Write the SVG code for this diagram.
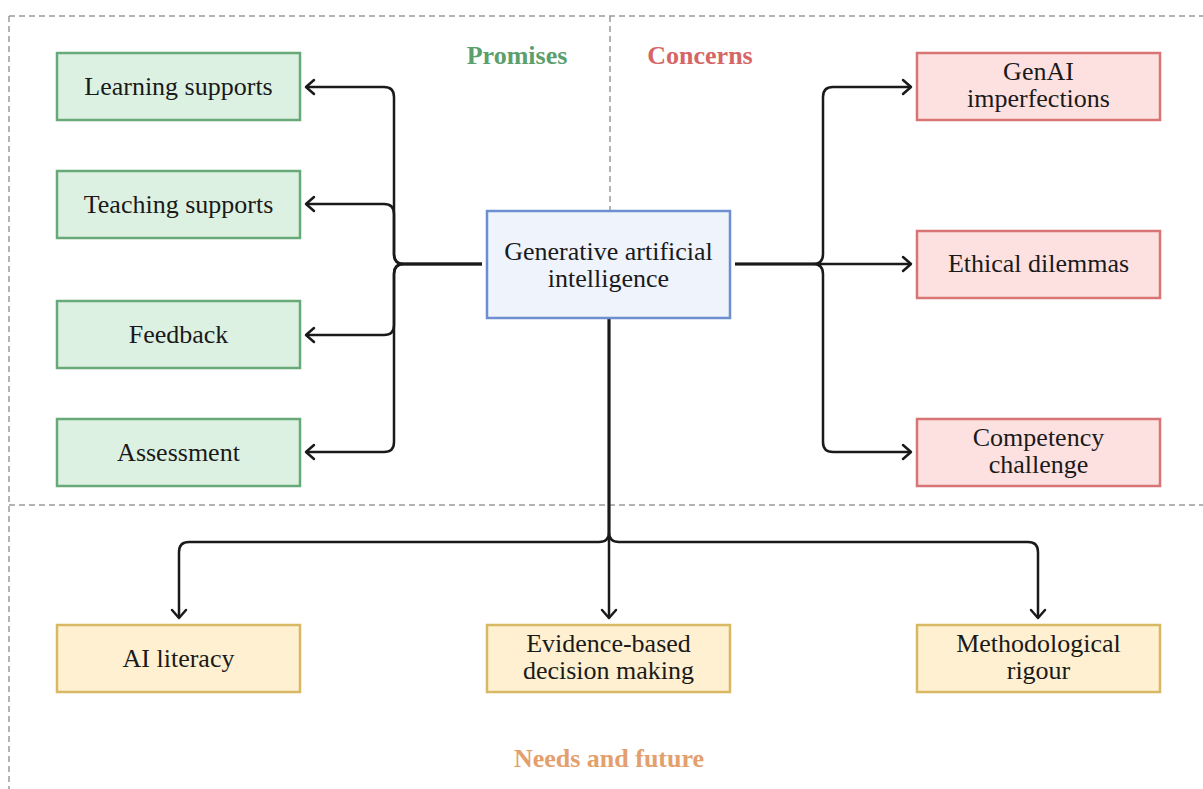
<svg xmlns="http://www.w3.org/2000/svg" width="1203" height="789" viewBox="0 0 1203 789">
  <style>
    .lbl { font-family: "Liberation Serif", "Times New Roman", serif; font-size: 26px; fill: #1a1a1a; text-anchor: middle; }
    .ttl { font-family: "Liberation Serif", "Times New Roman", serif; font-size: 26px; font-weight: bold; text-anchor: middle; }
    .green rect { fill: #ddf1e3; stroke: #67a977; stroke-width: 2.5; }
    .red rect { fill: #fde1e1; stroke: #d87474; stroke-width: 2.5; }
    .yellow rect { fill: #fff0d1; stroke: #d8b863; stroke-width: 2.5; }
    .blue rect { fill: #eef3fc; stroke: #6d8fcf; stroke-width: 2.5; }
    .dash { fill: none; stroke: #9a9a9a; stroke-width: 1.5; stroke-dasharray: 6 4; }
    .conn { fill: none; stroke: #1a1a1a; stroke-width: 2.5; stroke-linejoin: round; marker-end: url(#arr); }
  </style>
  <defs>
    <marker id="arr" viewBox="-10 -10 20 20" markerWidth="20" markerHeight="20" refX="0" refY="0" orient="auto" markerUnits="userSpaceOnUse">
      <path d="M-8,-7 L0,0 L-8,7" fill="none" stroke="#1a1a1a" stroke-width="2.5" stroke-linecap="round" stroke-linejoin="round"/>
    </marker>
  </defs>
  <rect width="1203" height="789" fill="#ffffff"/>

  <g id="regions">
    <path class="dash" d="M9,16 H1203"/>
    <path class="dash" d="M9,16 V789"/>
    <path class="dash" d="M610,16 V211"/>
    <path class="dash" d="M9,505 H1203"/>
    <text class="ttl" x="517" y="64" fill="#5b9f6d">Promises</text>
    <text class="ttl" x="700" y="64" fill="#d66666">Concerns</text>
    <text class="ttl" x="609" y="767" fill="#e3a06c">Needs and future</text>
  </g>

  <g id="connectors">
    <path class="conn" d="M482,264 H404 Q394,264 394,254 V97 Q394,87 384,87 H306"/>
    <path class="conn" d="M482,264 H404 Q394,264 394,254 V214 Q394,204 384,204 H306"/>
    <path class="conn" d="M482,264 H404 Q394,264 394,274 V325 Q394,335 384,335 H306"/>
    <path class="conn" d="M482,264 H404 Q394,264 394,274 V442 Q394,452 384,452 H306"/>
    <path class="conn" d="M735,264 H813 Q823,264 823,254 V97 Q823,87 833,87 H911"/>
    <path class="conn" d="M735,264 H911"/>
    <path class="conn" d="M735,264 H813 Q823,264 823,274 V442 Q823,452 833,452 H911"/>
    <path class="conn" d="M609,318 V618"/>
    <path class="conn" d="M609,318 V532 Q609,542 599,542 H189 Q179,542 179,552 V618"/>
    <path class="conn" d="M609,318 V532 Q609,542 619,542 H1028 Q1038,542 1038,552 V618"/>
  </g>

  <g id="genai" class="blue">
    <rect x="487" y="211" width="243" height="107"/>
    <text class="lbl" x="608.5" y="260">Generative artificial</text>
    <text class="lbl" x="608.5" y="287">intelligence</text>
  </g>

  <g id="learning-supports" class="green">
    <rect x="57" y="53" width="243" height="67"/>
    <text class="lbl" x="178.5" y="95">Learning supports</text>
  </g>
  <g id="teaching-supports" class="green">
    <rect x="57" y="171" width="243" height="67"/>
    <text class="lbl" x="178.5" y="213">Teaching supports</text>
  </g>
  <g id="feedback" class="green">
    <rect x="57" y="301" width="243" height="67"/>
    <text class="lbl" x="178.5" y="343">Feedback</text>
  </g>
  <g id="assessment" class="green">
    <rect x="57" y="419" width="243" height="67"/>
    <text class="lbl" x="178.5" y="461">Assessment</text>
  </g>

  <g id="genai-imperfections" class="red">
    <rect x="917" y="53" width="243" height="67"/>
    <text class="lbl" x="1038.5" y="80">GenAI</text>
    <text class="lbl" x="1038.5" y="107">imperfections</text>
  </g>
  <g id="ethical-dilemmas" class="red">
    <rect x="917" y="231" width="243" height="67"/>
    <text class="lbl" x="1038.5" y="272">Ethical dilemmas</text>
  </g>
  <g id="competency-challenge" class="red">
    <rect x="917" y="419" width="243" height="67"/>
    <text class="lbl" x="1038.5" y="446">Competency</text>
    <text class="lbl" x="1038.5" y="473">challenge</text>
  </g>

  <g id="ai-literacy" class="yellow">
    <rect x="57" y="625" width="243" height="67"/>
    <text class="lbl" x="178.5" y="667">AI literacy</text>
  </g>
  <g id="evidence-based" class="yellow">
    <rect x="487" y="625" width="243" height="67"/>
    <text class="lbl" x="608.5" y="652">Evidence-based</text>
    <text class="lbl" x="608.5" y="679">decision making</text>
  </g>
  <g id="methodological-rigour" class="yellow">
    <rect x="917" y="625" width="243" height="67"/>
    <text class="lbl" x="1038.5" y="652">Methodological</text>
    <text class="lbl" x="1038.5" y="679">rigour</text>
  </g>
</svg>
